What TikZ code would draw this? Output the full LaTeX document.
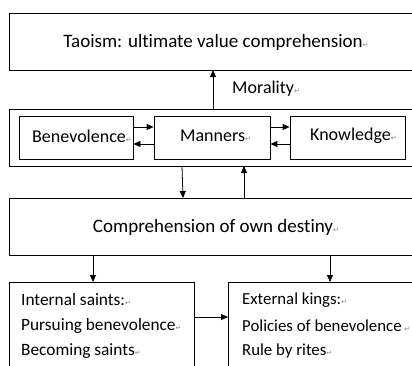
\documentclass[tikz,border=0pt]{standalone}
\usepackage{fontspec}
\setmainfont{Carlito}[Ligatures=NoCommon]
\newfontfamily\symfont{DejaVu Sans}
\usetikzlibrary{arrows.meta}
\newcommand{\parmk}{{\symfont\fontsize{7}{7}\selectfont\color{gray}\char"21B5}}
\tikzset{
  box/.style={draw, line width=0.8pt},
  arr/.style={-{Triangle[length=7pt,width=6pt]}, line width=0.8pt},
  lbl/.style={font=\fontsize{18}{21}\selectfont, inner sep=0pt},
  big/.style={font=\fontsize{19}{22}\selectfont, inner sep=0pt},
  sml/.style={font=\fontsize{17.3}{20}\selectfont, inner sep=0pt},
  smr/.style={font=\fontsize{16.8}{20}\selectfont, inner sep=0pt},
}
\begin{document}
\begin{tikzpicture}[x=1pt,y=-1pt]
\useasboundingbox (0,0) rectangle (412,365);
\clip (0,0) rectangle (412,365);
% top box
\draw[box] (9,13) rectangle (420,70);
\node[big] (tao) at (216,42) {Taoism: ultimate value comprehension\parmk};
\coordinate (taob) at (213,70);
\node[lbl, anchor=west] (mor) at (232,89) {Morality\parmk};
% container
\draw[box] (9,109) rectangle (420,166);
\coordinate (cont) at (213,109);
\draw[arr] (cont) -- (taob);
\node[box, minimum width=114pt, minimum height=43pt] (ben) at (76,137.5) {};
\node[box, minimum width=116pt, minimum height=43pt] (man) at (212,137.5) {};
\node[box, minimum width=115pt, minimum height=43pt] (kno) at (347.5,137.5) {};
\node[lbl, anchor=west] (bent) at (32,136) {Benevolence\parmk};
\node[lbl, anchor=west] (mant) at (180,136) {Manners\parmk};
\node[lbl, anchor=west] (knot) at (310,136) {Knowledge\parmk};
\draw[arr] (ben.east |- 0,127) -- (man.west |- 0,127);
\draw[arr] (man.west |- 0,144) -- (ben.east |- 0,144);
\draw[arr] (man.east |- 0,127) -- (kno.west |- 0,127);
\draw[arr] (kno.west |- 0,144) -- (man.east |- 0,144);
% comprehension
\draw[box] (9,198) rectangle (420,255);
\node[big] (comp) at (216,227) {Comprehension of own destiny\parmk};
\coordinate (c1) at (182,166);
\coordinate (c2) at (183,198);
\coordinate (c3) at (244,198);
\coordinate (c4) at (244,166);
\draw[arr] (c1) -- (c2);
\draw[arr] (c3) -- (c4);
% bottom boxes
\draw[box] (9,282) rectangle (194,372);
\draw[box] (228,282) rectangle (420,372);
\coordinate (d1) at (93,255);
\coordinate (d2) at (93,282);
\coordinate (d3) at (330,255);
\coordinate (d4) at (330,282);
\draw[arr] (d1) -- (d2);
\draw[arr] (d3) -- (d4);
\coordinate (e1) at (194,317);
\coordinate (e2) at (228,317);
\draw[arr] (e1) -- (e2);
\node[sml, anchor=west] (l1) at (21,300) {Internal saints:\parmk};
\node[sml, anchor=west] (l2) at (21,326) {Pursuing benevolence\parmk};
\node[sml, anchor=west] (l3) at (21,351) {Becoming saints\parmk};
\node[smr, anchor=west] (r1) at (242,300) {External kings:\parmk};
\node[smr, anchor=west] (r2) at (242,326) {Policies of benevolence\,\parmk};
\node[smr, anchor=west] (r3) at (242,351) {Rule by rites\parmk};
\end{tikzpicture}
\end{document}
